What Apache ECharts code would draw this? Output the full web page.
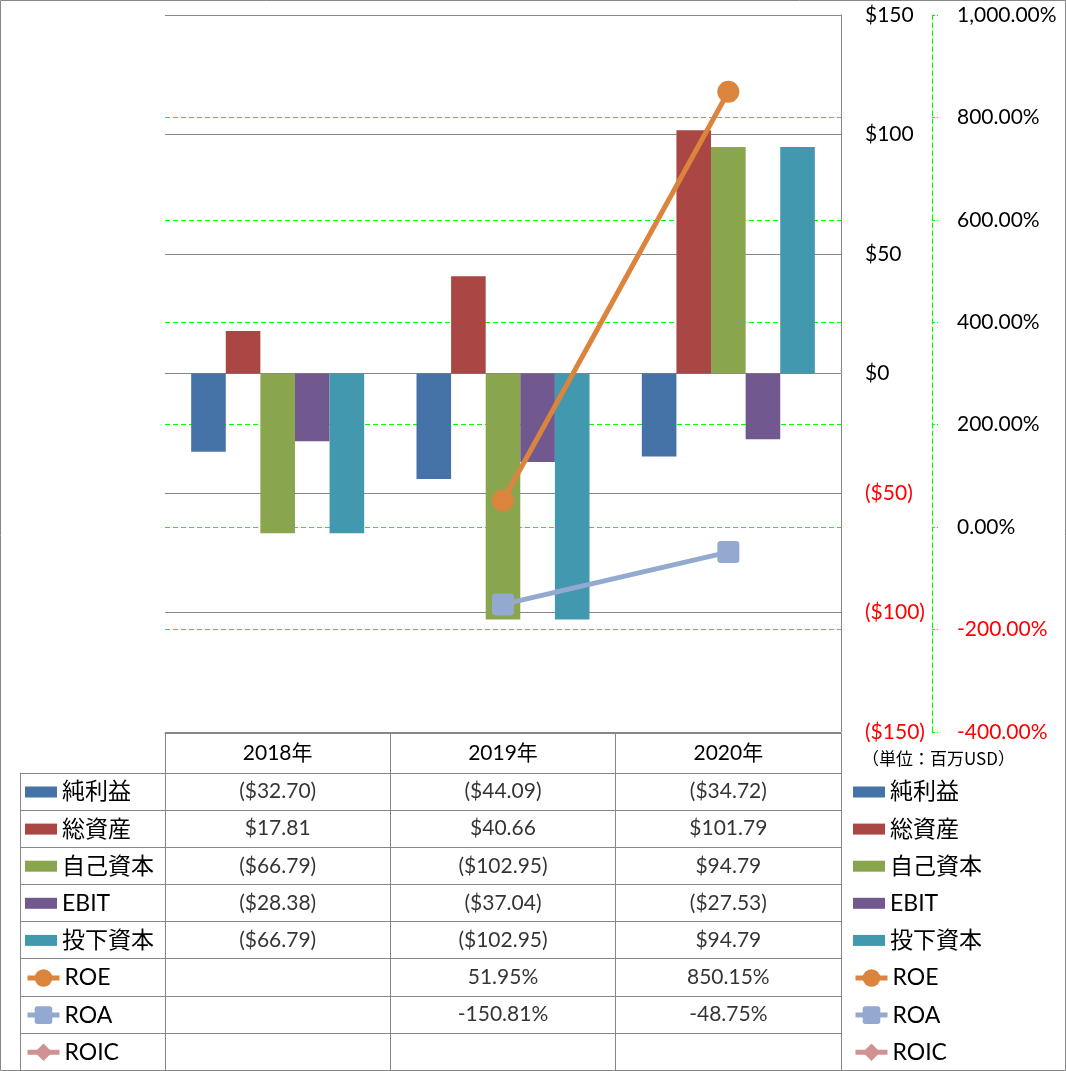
<!DOCTYPE html>
<html><head><meta charset="utf-8">
<script src="https://cdn.jsdelivr.net/npm/echarts@6/dist/echarts.min.js"></script>
<style>html,body{margin:0;padding:0;background:#fff}#c{width:1066px;height:1071px}</style>
</head><body><div id="c"></div>
<script>
// ---- data ----
const categories = ['2018年', '2019年', '2020年'];
const seriesNames = ['純利益', '総資産', '自己資本', 'EBIT', '投下資本', 'ROE', 'ROA', 'ROIC'];
const netIncome = [-32.70, -44.09, -34.72];
const totalAssets = [17.81, 40.66, 101.79];
const equity = [-66.79, -102.95, 94.79];
const ebit = [-28.38, -37.04, -27.53];
const investedCapital = [-66.79, -102.95, 94.79];
const roe = [null, 51.95, 850.15];
const roa = [null, -150.81, -48.75];
const roic = [null, null, null];
const usdAxis = { min: -150, max: 150, interval: 50 };
const pctAxis = { min: -400, max: 1000, interval: 200 };
const unitNote = '（単位：百万USD）';

// ---- styles ----
const colors = ['#4572A7', '#AA4643', '#89A54E', '#71588F', '#4198AF', '#DB843D', '#93A9CF', '#D19392'];
const lineSymbols = ['circle', 'path://M3,0 H17 Q20,0 20,3 V17 Q20,20 17,20 H3 Q0,20 0,17 V3 Q0,0 3,0 Z', 'diamond'];
const FONT = "Lato, 'Noto Sans CJK JP', sans-serif";
const GRAY = '#878787';
const GREEN = '#00FF00';
const RED = '#FF0000';

const barValues = [netIncome, totalAssets, equity, ebit, investedCapital];
const lineValues = [roe, roa, roic];

function fmtUsd(v) { const s = '$' + Math.abs(v).toFixed(2); return v < 0 ? '(' + s + ')' : s; }
function fmtUsdTick(v) { const s = '$' + Math.abs(v); return v < 0 ? '(' + s + ')' : s; }
function fmtPct(v) { return v.toLocaleString('en-US', { minimumFractionDigits: 2, maximumFractionDigits: 2 }) + '%'; }

const tableData = [];
barValues.forEach((arr, r) => arr.forEach((v, c) => { if (v != null) tableData.push([c, r, fmtUsd(v)]); }));
lineValues.forEach((arr, k) => arr.forEach((v, c) => { if (v != null) tableData.push([c, 5 + k, v.toFixed(2) + '%']); }));

const series = [];
barValues.forEach((arr, i) => series.push({
  type: 'bar', name: seriesNames[i], xAxisIndex: 0, yAxisIndex: 0, data: arr,
  barWidth: 34.6, barGap: '0%', itemStyle: { color: colors[i] }
}));
lineValues.forEach((arr, k) => series.push({
  type: 'line', name: seriesNames[5 + k], xAxisIndex: 0, yAxisIndex: 1, data: arr,
  symbol: lineSymbols[k], symbolSize: 22, z: 10,
  lineStyle: { width: 5, color: colors[5 + k] }, itemStyle: { color: colors[5 + k] }
}));
series.push({
  type: 'scatter', xAxisIndex: 1, yAxisIndex: 2, data: tableData, symbolSize: 1, silent: true,
  itemStyle: { color: 'transparent' },
  label: { show: true, position: 'inside', formatter: p => p.value[2], fontSize: 21, color: '#000', fontFamily: FONT }
});

const legendText = { fontSize: 23, lineHeight: 24, color: '#000', fontFamily: FONT };
function mkLegend(left, top, names, h, icon) {
  const l = { data: names, orient: 'vertical', left: left, top: top, padding: 0, itemWidth: 32, itemHeight: h,
    itemGap: 13.1, selectedMode: false, textStyle: legendText };
  if (icon) l.icon = icon; else l.lineStyle = { width: 5 };
  return l;
}

const option = {
  animation: false,
  backgroundColor: '#fff',
  title: { text: unitNote, left: 857, top: 745, textStyle: { fontSize: 17, fontWeight: 'normal', color: '#000', fontFamily: "'Noto Sans CJK JP'" } },
  graphic: [{ type: 'rect', silent: true, z: -1, shape: { x: 0.5, y: 0.5, width: 1065, height: 1070 }, style: { fill: 'none', stroke: GRAY, lineWidth: 1 } }],
  legend: [
    mkLegend(25, 780, seriesNames.slice(0, 5), 11, 'rect'),
    mkLegend(25, 966, seriesNames.slice(5), 22),
    mkLegend(853, 780, seriesNames.slice(0, 5), 11, 'rect'),
    mkLegend(853, 966, seriesNames.slice(5), 22)
  ],
  grid: [
    { left: 165, right: 225, top: 15, bottom: 339, outerBoundsMode: 'none' },
    { left: 165, right: 225, top: 773, bottom: 1, outerBoundsMode: 'none' },
    { left: 20, width: 145, top: 773, bottom: 1, outerBoundsMode: 'none' }
  ],
  xAxis: [
    { gridIndex: 0, type: 'category', data: categories, axisLine: { show: false }, axisTick: { show: false }, axisLabel: { show: false }, splitLine: { show: false } },
    { gridIndex: 1, type: 'category', data: categories, position: 'top', axisLine: { show: false },
      axisTick: { show: true, inside: false, length: 40, lineStyle: { color: GRAY } },
      axisLabel: { margin: 9, fontSize: 21, color: '#000', fontFamily: FONT },
      splitLine: { show: true, lineStyle: { color: GRAY, width: 1 } } },
    { gridIndex: 1, type: 'category', data: categories, position: 'top', offset: 40,
      axisLine: { show: true, lineStyle: { color: GRAY } }, axisTick: { show: false }, axisLabel: { show: false }, splitLine: { show: false } },
    { gridIndex: 2, type: 'value', show: false }
  ],
  yAxis: [
    { gridIndex: 0, type: 'value', position: 'right', min: usdAxis.min, max: usdAxis.max, interval: usdAxis.interval,
      axisLine: { show: true, lineStyle: { color: GRAY } }, axisTick: { show: false },
      splitLine: { show: true, lineStyle: { color: GRAY, type: 'solid', width: 1 } },
      axisLabel: { margin: 24, fontSize: 21, color: '#000', fontFamily: FONT,
        formatter: v => v < 0 ? '{n|' + fmtUsdTick(v) + '}' : fmtUsdTick(v),
        rich: { n: { color: RED, fontSize: 21, fontFamily: FONT } } } },
    { gridIndex: 0, type: 'value', position: 'right', offset: 91, min: pctAxis.min, max: pctAxis.max, interval: pctAxis.interval,
      axisLine: { show: true, lineStyle: { color: GREEN, type: [5, 3] } },
      axisTick: { show: true, inside: false, length: 6, lineStyle: { color: GREEN, type: [3, 2] } },
      splitLine: { show: true, showMinLine: false, showMaxLine: false, lineStyle: { color: GREEN, type: [5, 3], width: 1 } },
      axisLabel: { margin: 25, fontSize: 21, color: '#000', fontFamily: FONT,
        formatter: v => v < 0 ? '{n|' + fmtPct(v) + '}' : fmtPct(v),
        rich: { n: { color: RED, fontSize: 21, fontFamily: FONT } } } },
    { gridIndex: 1, type: 'category', data: seriesNames, inverse: true, axisLine: { show: false }, axisTick: { show: false }, axisLabel: { show: false },
      splitLine: { show: true, lineStyle: { color: GRAY, width: 1 } } },
    { gridIndex: 2, type: 'category', data: seriesNames, inverse: true, axisLine: { show: true, lineStyle: { color: GRAY } }, axisTick: { show: false }, axisLabel: { show: false },
      splitLine: { show: true, lineStyle: { color: GRAY, width: 1 } } }
  ],
  series: series
};

const chart = echarts.init(document.getElementById('c'), null, { renderer: 'canvas' });
chart.setOption(option);
</script>
</body></html>
